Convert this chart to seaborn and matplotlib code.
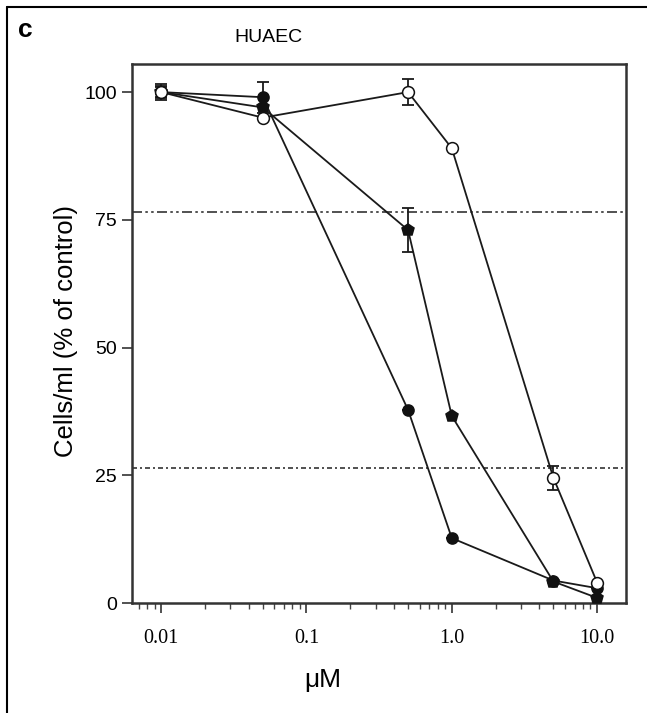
import numpy as np
import pandas as pd
import matplotlib
matplotlib.use("Agg")
import matplotlib.pyplot as plt
import seaborn as sns
from matplotlib.lines import Line2D

# ---- data ----
conc = [0.01, 0.05, 0.5, 1.0, 5.0, 10.0]
open_vals = [100, 95, 100, 89, 24.5, 4]
open_err = [1.5, 0, 2.5, 0, 2.3, 0]
star_vals = [100, 97, 73, 36.6, 4.2, 1]
star_err = [1.2, 0, 4.3, 0, 0, 0]
circ_vals = [100, 99, 37.8, 12.7, 4.4, 2.9]
circ_err = [1.0, 3.0, 0, 0, 0, 0]
ref_upper = 76.5
ref_lower = 26.4
x_ticks = [0.01, 0.1, 1.0, 10.0]
x_ticklabels = ["0.01", "0.1", "1.0", "10.0"]
y_ticks = [0, 25, 50, 75, 100]

sns.set_theme(style="ticks")
plt.rcParams["font.family"] = ["Liberation Sans", "DejaVu Sans"]
plt.rcParams["text.color"] = "black"
plt.rcParams["axes.labelcolor"] = "black"
plt.rcParams["xtick.labelcolor"] = "black"
plt.rcParams["ytick.labelcolor"] = "black"

fig = plt.figure(figsize=(6.47, 7.13), dpi=100)
ax = fig.add_axes([132/647, 1-603/713, (626-132)/647, (603-64)/713])

df = pd.DataFrame({
    "conc": conc * 3,
    "value": open_vals + star_vals + circ_vals,
    "series": ["open"] * 6 + ["star"] * 6 + ["circ"] * 6,
})

styles = {
    "open": dict(marker="o", markersize=8.5, markerfacecolor="white"),
    "star": dict(marker="p", markersize=9, markerfacecolor="#111111"),
    "circ": dict(marker="o", markersize=8, markerfacecolor="#111111"),
}
errs = {"open": open_err, "star": star_err, "circ": circ_err}

for name in ["circ", "star", "open"]:
    sub = df[df["series"] == name]
    ax.errorbar(sub["conc"], sub["value"], yerr=errs[name], fmt="none",
                ecolor="#1a1a1a", elinewidth=1.3, capsize=4, capthick=1.3, zorder=2)
    sns.lineplot(data=sub, x="conc", y="value", ax=ax, color="#1a1a1a",
                 linewidth=1.3, markeredgecolor="#111111", markeredgewidth=1.1,
                 zorder=3, **styles[name])

ax.axhline(ref_upper, color="#333333", linewidth=1.2, dashes=(6, 2, 1.5, 2, 1.5, 2), zorder=1)
ax.axhline(ref_lower, color="#333333", linewidth=1.2, dashes=(3, 1.8, 1.2, 1.8), zorder=1)

ax.set_xscale("log")
ax.set_xlim(0.0063, 15.8)
ax.set_ylim(0, 105.5)
ax.set_xticks(x_ticks)
ax.set_xticklabels(x_ticklabels, family=["Liberation Serif", "DejaVu Serif"], fontsize=14.5)
ax.set_yticks(y_ticks)
ax.set_yticklabels([str(v) for v in y_ticks], fontsize=14)
ax.tick_params(axis="both", which="major", length=7, width=1.2, color="#333333", direction="out")
ax.tick_params(axis="x", which="minor", length=4, width=1.0, color="#444444", direction="out")
ax.tick_params(axis="x", pad=12)
ax.tick_params(axis="y", pad=4)

for s in ax.spines.values():
    s.set_linewidth(1.8)
    s.set_color("#333333")

ax.set_xlabel("\u03bcM", fontsize=19)
ax.xaxis.set_label_coords((323-132)/494, -(680-603)/539, transform=ax.transAxes)
ax.set_ylabel("Cells/ml (% of control)", fontsize=18.5)
ax.yaxis.set_label_coords(-(132-66)/494, (603-331)/539, transform=ax.transAxes)
ax.xaxis.label.set_va("center")
ax.yaxis.label.set_va("center")

fig.text(268/647, 1-37/713, "HUAEC", fontsize=14, ha="center", va="center")
fig.text(18/647, 1-30/713, "c", fontsize=19, fontweight="bold", ha="left", va="center")

# outer panel frame (left and top edges)
fig.add_artist(Line2D([7/647, 7/647], [0, 1-7/713], transform=fig.transFigure,
                      color="black", linewidth=1.5))
fig.add_artist(Line2D([7/647, 1], [1-7/713, 1-7/713], transform=fig.transFigure,
                      color="black", linewidth=1.5))

fig.savefig("out.png", dpi=100)
